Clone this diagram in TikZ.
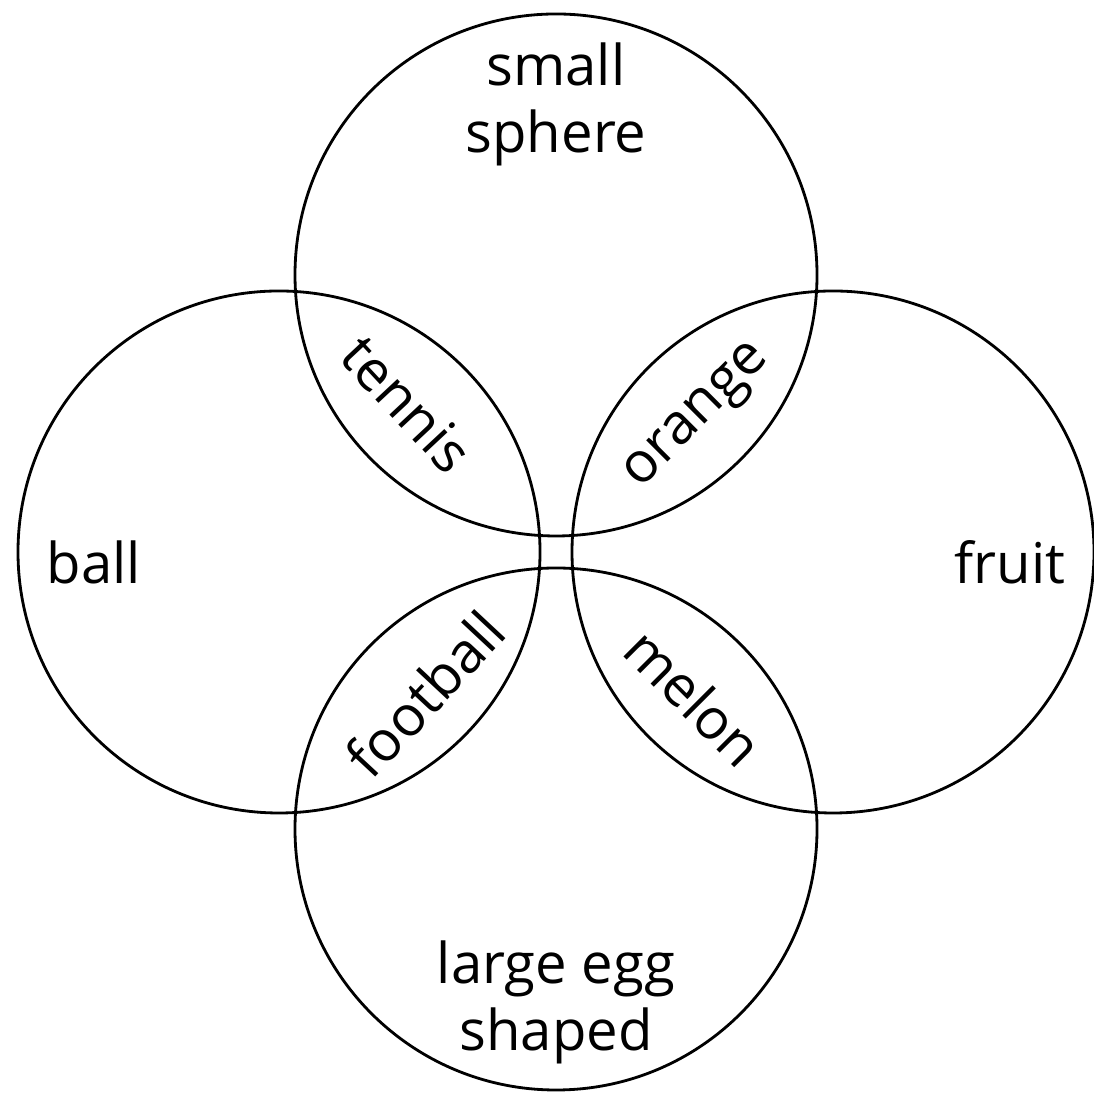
\documentclass[tikz,border=0pt]{standalone}
\usepackage{fontspec}
\setmainfont{Open Sans}
\usetikzlibrary{positioning,calc}

\begin{document}
\begin{tikzpicture}[
  set/.style={draw, circle, line width=0.8pt, minimum size=5.22cm, inner sep=0pt},
  word/.style={font=\fontsize{16}{19}\selectfont, align=center, inner sep=0pt},
  both/.style={font=\fontsize{16}{19}\selectfont, inner sep=0pt}
]
  \useasboundingbox (0,0) rectangle (10.93,10.98);

  % Mitte
  \coordinate (c) at (5.56,5.46);

  % Kreise
  \node[set] (top)    at ($(c)+(0,2.77)$) {};
  \node[set] (left)   at ($(c)+(-2.77,0)$) {};
  \node[set] (right)  at ($(c)+(2.77,0)$) {};
  \node[set] (bottom) at ($(c)+(0,-2.77)$) {};

  % Mengen
  \node[word, anchor=north] (sphere) at (5.56,10.56) {small\\sphere};
  \node[word, anchor=base]  (ball)   at (0.94,5.14) {ball};
  \node[word, anchor=base]  (fruit)  at (10.10,5.14) {fruit};
  \node[word, anchor=north] (egg)    at (5.56,1.58) {large egg\\shaped};

  % Schnittmengen
  \node[both, rotate=-47] (tennis)   at (4.07,6.94) {tennis};
  \node[both, rotate=45]  (orange)   at (6.99,6.80) {orange};
  \node[both, rotate=47]  (football) at (4.25,4.04) {football};
  \node[both, rotate=-45] (melon)    at (6.94,4.01) {melon};
\end{tikzpicture}
\end{document}
